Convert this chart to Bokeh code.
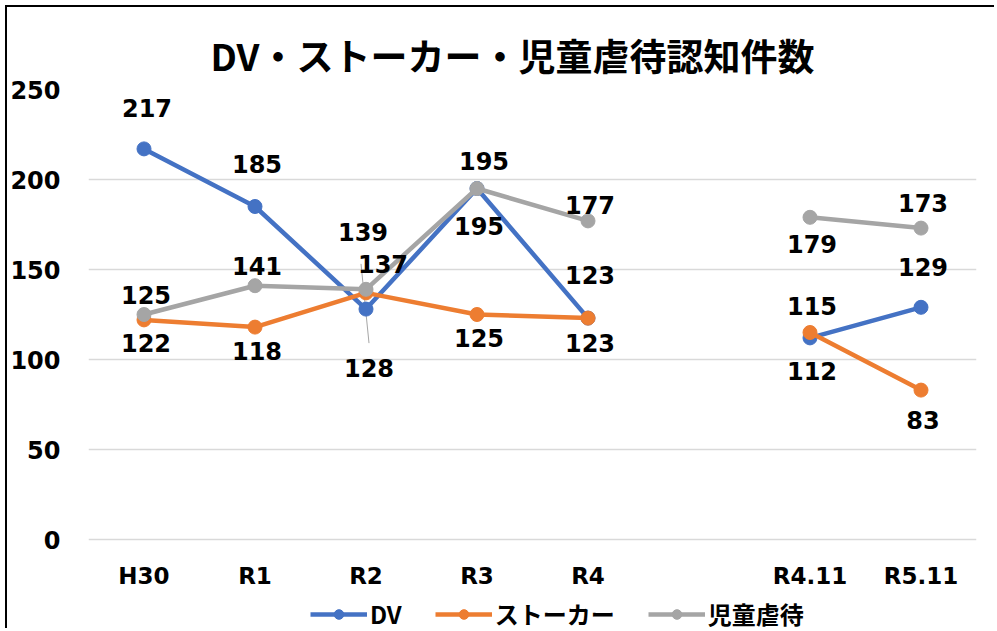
from bokeh.plotting import figure
from bokeh.models import FixedTicker, Legend, LegendItem, ColumnDataSource, Title
from bokeh.core.properties import value
from bokeh.embed import file_html
from bokeh.resources import INLINE

# ---- data ----
categories = ["H30", "R1", "R2", "R3", "R4", "", "R4.11", "R5.11"]
dv = [217, 185, 128, 195, 123, None, 112, 129]
stalker = [122, 118, 137, 125, 123, None, 115, 83]
child_abuse = [125, 141, 139, 195, 177, None, 179, 173]
series_names = ["DV", "ストーカー", "児童虐待"]
y_ticks = [0, 50, 100, 150, 200, 250]

# ---- label placement (screen px, +down) ----
dv_dx = [3, 2, 3, 2, 2, 0, 2, 2]
dv_dy = [-41, -43, 59, 37, -43, 0, 33, -40]
st_dx = [2, 2, 17, 2, 2, 0, 2, 2]
st_dy = [23, 24, -29, 23, 25, 0, -27, 30]
ca_dx = [2, 2, -3, 7, 2, 0, 2, 2]
ca_dy = [-20, -20, -57, -28, -16, 0, 27, -25]

colors = ["#4472C4", "#ED7D31", "#A5A5A5"]
JP = "Noto Sans CJK JP"
NUM = "DejaVu Sans"

# ---- layout (px) ----
W, H = 989, 623
LEFT, RIGHT, TOP = 81, 20, 82
PLOT_H = 450                       # height of the 0..250 value band
ppu = PLOT_H / 250.0
extra = H - TOP - PLOT_H            # space below 0 for category labels + legend

xs = list(range(len(categories)))

p = figure(width=W, height=H, output_backend="svg", toolbar_location=None,
           x_range=(-0.5, len(categories) - 0.5), y_range=(-extra / ppu, 250),
           min_border_left=LEFT, min_border_right=RIGHT, min_border_top=TOP,
           min_border_bottom=0)
p.styles = {"margin-left": "5px", "margin-top": "5px",
            "border-top": "2px solid #000000", "border-left": "2px solid #000000"}
p.outline_line_color = None
p.background_fill_color = "white"
p.border_fill_color = "white"

p.title = Title(text="DV・ストーカー・児童虐待認知件数", align="left",
                vertical_align="top",
                text_font=JP, text_font_size="37px", text_font_style="bold",
                text_color="#000000", standoff=12, offset=122)

p.xaxis.visible = False
p.yaxis.ticker = FixedTicker(ticks=y_ticks)
ax = p.yaxis[0]
ax.axis_line_color = None
ax.major_tick_line_color = None
ax.minor_tick_line_color = None
ax.major_label_text_font = NUM
ax.major_label_text_font_style = "bold"
ax.major_label_text_color = "#000000"
ax.major_label_text_font_size = "24px"
ax.major_label_standoff = 22
p.xgrid.grid_line_color = None
p.ygrid.grid_line_color = "#D9D9D9"
p.ygrid.grid_line_width = 1.5

# category labels under the 0 line
cat_idx = [i for i, c in enumerate(categories) if c]
p.text(x=cat_idx, y=[0] * len(cat_idx), text=[categories[i] for i in cat_idx],
       y_offset=36, text_align="center", text_baseline="middle",
       text_font=value(NUM), text_font_size="23px", text_font_style="bold",
       text_color="#000000")

# leader lines at R2 (derived from values and label offsets)
i2 = categories.index("R2")
p.segment(x0=[i2 - 5 / 111.0], y0=[stalker[i2] - st_dy[i2] / ppu],
          x1=[i2 + 3 / 111.0], y1=[dv[i2] - (dv_dy[i2] - 25) / ppu],
          line_color="#A6A6A6", line_width=1)

items = []
all_series = [(dv, dv_dx, dv_dy), (stalker, st_dx, st_dy), (child_abuse, ca_dx, ca_dy)]
for (vals, dxs, dys), name, col in zip(all_series, series_names, colors):
    ys = [float("nan") if v is None else v for v in vals]
    r_line = p.line(xs, ys, line_color=col, line_width=4.5)
    src = ColumnDataSource(dict(x=[x for x, v in zip(xs, vals) if v is not None],
                                y=[v for v in vals if v is not None]))
    r_pts = p.scatter("x", "y", source=src, size=14, fill_color=col, line_color=col)
    items.append(LegendItem(label=name, renderers=[r_line, r_pts]))

for (vals, dxs, dys), name, col in zip(all_series, series_names, colors):
    idx = [i for i, v in enumerate(vals) if v is not None]
    lsrc = ColumnDataSource(dict(x=[xs[i] for i in idx], y=[vals[i] for i in idx],
                                 t=[str(vals[i]) for i in idx],
                                 dx=[dxs[i] for i in idx], dy=[dys[i] for i in idx]))
    p.text("x", "y", text="t", source=lsrc, x_offset="dx", y_offset="dy",
           text_align="center", text_baseline="middle",
           text_font=value(NUM), text_font_size="24px", text_font_style="bold",
           text_color="#000000")

legend = Legend(items=items, orientation="horizontal", location=(222, -1),
                glyph_width=57, glyph_height=24, label_height=24, label_standoff=3,
                spacing=33, padding=0, margin=0, border_line_color=None,
                background_fill_alpha=0,
                label_text_font=JP, label_text_font_size="24px",
                label_text_font_style="bold", label_text_color="#000000")
p.add_layout(legend)

open("out.html", "w").write(file_html(p, INLINE))
